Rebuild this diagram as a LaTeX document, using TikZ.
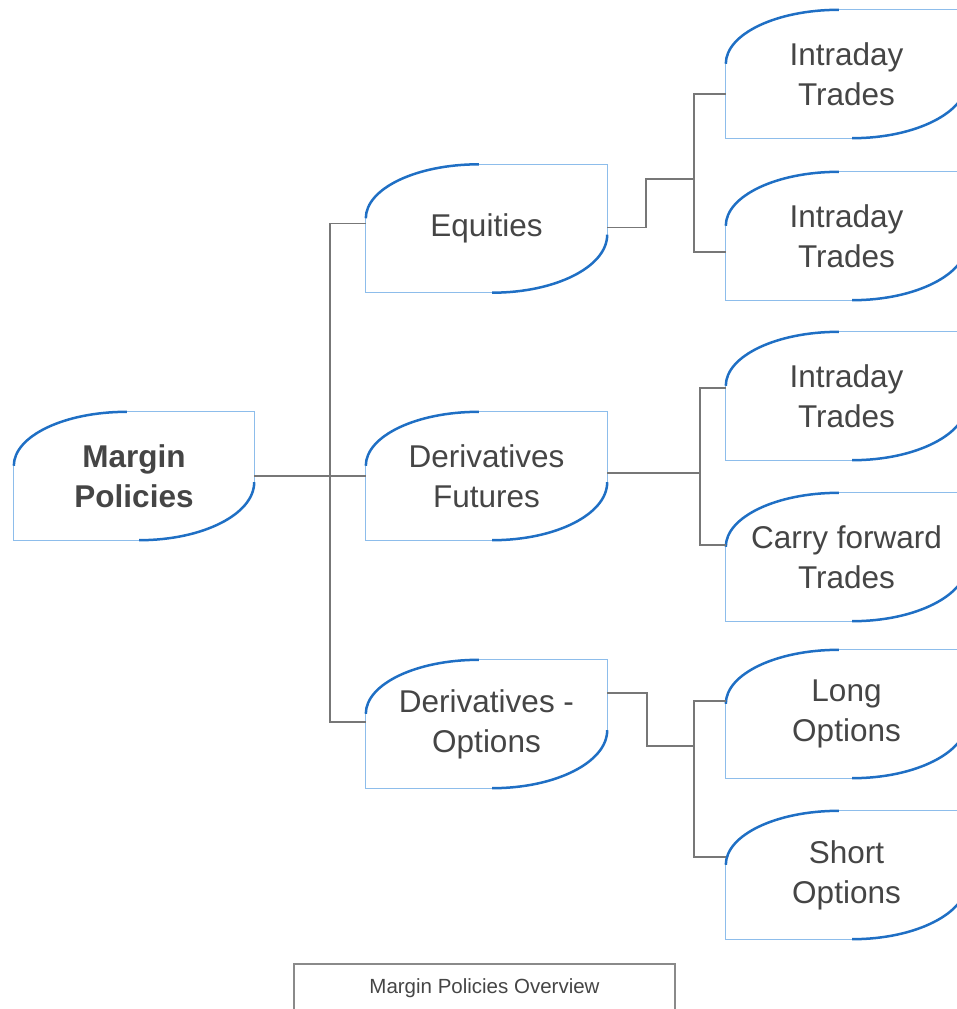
\documentclass[tikz,border=0pt]{standalone}
\usepackage{fontspec}
\setmainfont{Liberation Sans}
\usetikzlibrary{calc}
\definecolor{edgeblue}{HTML}{1F6FC4}
\definecolor{lineblue}{HTML}{8DBDEB}
\definecolor{wiregray}{HTML}{777777}
\definecolor{textgray}{HTML}{454545}
\definecolor{capgray}{HTML}{8A8A8A}
\tikzset{
  leaf/.style={minimum width=241pt, minimum height=128pt, inner sep=0pt, align=center,
    text=textgray, font=\fontsize{31.5}{40}\selectfont},
  wire/.style={draw=wiregray, line width=1.9pt},
}
\newcommand{\leafoutline}[1]{%
  \draw[lineblue, line width=1.2pt] ($(#1.north west)+(0,-54pt)$) -- (#1.south west) -- ($(#1.south east)+(-115pt,0)$)
    ($(#1.north west)+(113pt,0)$) -- (#1.north east) -- ($(#1.south east)+(0,58pt)$);
  \draw[edgeblue, line width=2.5pt] ($(#1.north west)+(0,-54pt)$) arc[start angle=180, end angle=90, x radius=113pt, y radius=54pt];
  \draw[edgeblue, line width=2.5pt] ($(#1.south east)+(0,58pt)$) arc[start angle=0, end angle=-90, x radius=115pt, y radius=58pt];
}
\begin{document}
\begin{tikzpicture}[x=1pt, y=-1pt]
    \useasboundingbox (0,0) rectangle (956,1009);
    \node[leaf, minimum width=240pt, font=\fontsize{31.5}{40}\selectfont\bfseries] (root) at (134,476) {Margin\\Policies};
    \node[leaf] (equ) at (486.5,228.5) {Equities};
    \node[leaf] (fut) at (486.5,476) {Derivatives\\Futures};
    \node[leaf] (opt) at (486.5,724) {Derivatives -\\Options};
    \node[leaf] (l1) at (846.5,74) {Intraday\\Trades};
    \node[leaf] (l2) at (846.5,236) {Intraday\\Trades};
    \node[leaf] (l3) at (846.5,396) {Intraday\\Trades};
    \node[leaf] (l4) at (846.5,557) {Carry forward\\Trades};
    \node[leaf] (l5) at (846.5,714) {Long\\Options};
    \node[leaf] (l6) at (846.5,875) {Short\\Options};
    \foreach \n in {root,equ,fut,opt,l1,l2,l3,l4,l5,l6} {\leafoutline{\n}}

    \coordinate (trunk) at (330,476);
    \coordinate (eqjoin) at (694,179);
    \coordinate (futjoin) at (700,476);
    \coordinate (optjoin) at (694,746);
    \draw[wire] (root.east) -- (fut.west);
    \draw[wire] ($(equ.west)+(0,5pt)$) -| (trunk) |- ($(opt.west)+(0,2pt)$);
    \draw[wire] ($(equ.east)+(0,1pt)$) -- ++(39pt,0) |- (eqjoin);
    \draw[wire] ($(l1.west)+(0,-20pt)$) -| (eqjoin) |- ($(l2.west)+(0,-16pt)$);
    \draw[wire] ($(fut.east)+(0,3pt)$) -- ($(futjoin)+(0,3pt)$);
    \draw[wire] ($(l3.west)+(0,8pt)$) -| (futjoin) |- ($(l4.west)+(0,12pt)$);
    \draw[wire] ($(opt.east)+(0,31pt)$) -- ++(40pt,0) |- (optjoin);
    \draw[wire] ($(l5.west)+(0,13pt)$) -| (optjoin) |- ($(l6.west)+(0,18pt)$);

    \node[draw=capgray, line width=1.2pt, minimum width=381pt, minimum height=48pt, inner sep=0pt,
      text=textgray, font=\fontsize{20.5}{24}\selectfont] (caption) at (484.5,988) {Margin Policies Overview};
\end{tikzpicture}
\end{document}
